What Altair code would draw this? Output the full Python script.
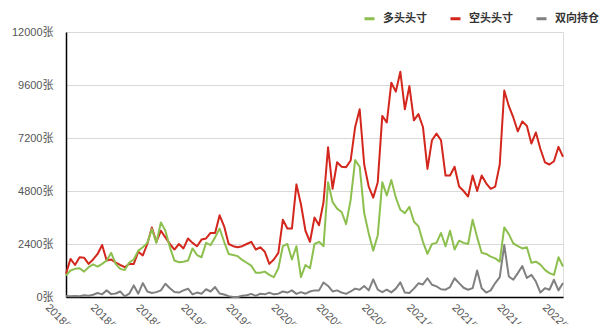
import altair as alt
import pandas as pd

# week index (every 2 weeks), starting 2018/02/02
weeks = list(range(0, 221, 2))

# 多头头寸 (long positions)
long_pos = [
    975, 1200, 1275, 1300, 1150, 1350, 1480, 1380, 1500, 1650,
    2000, 1500, 1275, 1220, 1560, 1700, 2100, 2250, 2450, 3075,
    2450, 3375, 3000, 2250, 1650, 1575, 1600, 1650, 2200, 1900,
    1800, 2450, 2350, 2700, 3100, 2500, 1950, 1900, 1850, 1680,
    1550, 1420, 1100, 1100, 1150, 1000, 900, 1300, 2300, 2400,
    1700, 2300, 900, 1450, 1300, 2400, 2500, 2300, 5200, 4300,
    4000, 3850, 3300, 4400, 6200, 5900, 3800, 2880, 2100, 2800,
    5200, 4600, 5300, 4500, 3950, 3800, 4080, 3420, 3200, 2500,
    1950, 2400, 2450, 2900, 2300, 3000, 2150, 2550, 2450, 2400,
    3500, 2700, 2000, 1950, 1830, 1750, 1600, 3150, 2850, 2430,
    2300, 2200, 2250, 1550, 1600, 1470, 1230, 1080, 1000, 1800,
    1380,
]

# 空头头寸 (short positions)
short_pos = [
    1050, 1725, 1450, 1800, 1780, 1500, 1700, 1950, 2355, 1650,
    1700, 1560, 1450, 1350, 1500, 1500, 2050, 1880, 2400, 3150,
    2500, 3000, 2700, 2400, 2150, 2400, 2200, 2650, 2450, 2300,
    2600, 2650, 2900, 2900, 3700, 3200, 2400, 2300, 2250, 2300,
    2400, 2500, 2150, 2250, 2050, 1500, 1700, 2000, 3500, 3100,
    3100, 5100, 4200, 3000, 2500, 3600, 3250, 4300, 6780, 4900,
    6100, 5900, 5880, 6180, 7700, 8500, 6000, 5000, 4500, 5200,
    8200, 7900, 9700, 9300, 10200, 8500, 9550, 8000, 8280, 7700,
    5800, 7100, 7400, 7100, 5500, 5500, 5900, 5000, 4800, 4550,
    5500, 4800, 5500, 5150, 4900, 5000, 6000, 9350, 8650, 8130,
    7500, 7950, 7750, 6950, 7450, 6700, 6100, 6000, 6150, 6800,
    6350,
]

# 双向持仓 (two-way positions)
both_pos = [
    45, 30, 45, 30, 75, 60, 100, 180, 120, 300,
    130, 160, 250, 30, 150, 525, 150, 630, 250, 180,
    220, 300, 600, 400, 225, 200, 300, 375, 120, 200,
    150, 350, 250, 450, 160, 110, 40, 0, 0, 60,
    80, 140, 50, 150, 120, 200, 120, 150, 250, 200,
    300, 140, 220, 150, 250, 300, 300, 660, 500, 250,
    300, 200, 140, 250, 380, 330, 500, 300, 800, 330,
    220, 330, 210, 380, 660, 200, 180, 380, 620, 570,
    850, 555, 480, 350, 330, 450, 850, 630, 420, 330,
    400, 1200, 400, 200, 300, 630, 900, 2350, 930, 780,
    1080, 1400, 860, 1000, 700, 200, 400, 330, 780, 300,
    630,
]

series_names = ["多头头寸", "空头头寸", "双向持仓"]
series_colors = ["#8dbf4f", "#d3271d", "#808080"]

tick_weeks = list(range(0, 221, 20))
tick_labels = [
    "2018/02/02", "2018/06/22", "2018/11/09", "2019/03/29",
    "2019/08/16", "2020/01/03", "2020/05/22", "2020/10/09",
    "2021/02/26", "2021/07/16", "2021/12/03", "2022/04/22",
]
y_ticks = [0, 2400, 4800, 7200, 9600, 12000]

rows = []
# draw order: short (red), long (green), both (gray)
for name, vals in [("空头头寸", short_pos), ("多头头寸", long_pos), ("双向持仓", both_pos)]:
    for w, v in zip(weeks, vals):
        rows.append({"week": w, "value": v, "series": name})
df = pd.DataFrame(rows)

label_arr = "[" + ",".join("'" + s + "'" for s in tick_labels) + "]"

FONT = "Liberation Sans, Noto Sans CJK SC, sans-serif"

chart = alt.Chart(df).mark_line(strokeWidth=2, strokeJoin="round").encode(
    x=alt.X(
        "week:Q",
        scale=alt.Scale(domain=[0, 220], nice=False, zero=False),
        axis=alt.Axis(
            values=tick_weeks,
            labelExpr=label_arr + "[round(datum.value/20)]",
            labelAngle=45,
            labelAlign="center",
            labelBaseline="middle",
            labelPadding=28,
            labelFlush=False,
            labelOverlap=False,
            ticks=False,
            grid=False,
            domainColor="#000000",
            domainWidth=1.5,
            labelFontSize=11,
            labelColor="#555555",
            title=None,
        ),
    ),
    y=alt.Y(
        "value:Q",
        scale=alt.Scale(domain=[0, 12000], nice=False),
        axis=alt.Axis(
            values=y_ticks,
            labelExpr="datum.value + '张'",
            ticks=False,
            grid=True,
            gridColor="#d9d9d9",
            gridWidth=1,
            domainColor="#000000",
            domainWidth=1.5,
            labelPadding=13,
            labelFontSize=11,
            labelColor="#555555",
            title=None,
        ),
    ),
    color=alt.Color(
        "series:N",
        scale=alt.Scale(domain=series_names, range=series_colors),
        legend=alt.Legend(
            orient="none",
            legendX=297,
            legendY=-20,
            direction="horizontal",
            title=None,
            symbolType="stroke",
            symbolStrokeWidth=3,
            symbolSize=100,
            labelFontSize=11,
            labelFontWeight="bold",
            labelColor="#333333",
            columnPadding=17,
            labelOffset=7,
            padding=0,
        ),
    ),
).properties(
    width=497,
    height=265,
    autosize=alt.AutoSizeParams(type="none"),
    padding={"left": 66, "top": 32, "right": 37, "bottom": 27},
).configure_view(
    stroke=None
).configure(
    font=FONT
)

chart.save("out.html", embed_options={"renderer": "svg", "actions": False})
